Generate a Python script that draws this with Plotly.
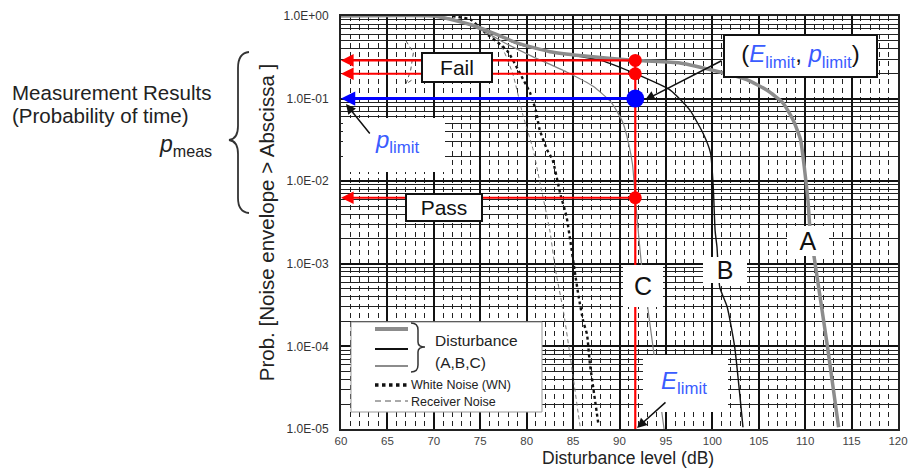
import math
import plotly.graph_objects as go

# ---------------- data ----------------
xA = [60, 70, 72, 75, 79, 82.5, 86, 91.7, 93, 96.5, 100.8, 103.7, 105.9, 107.6, 108.7, 109.5, 109.9, 110.3, 110.5, 110.9, 112.4, 113.6]
pA = [1.0, 1.0, 0.9, 0.72, 0.47, 0.37, 0.33, 0.29, 0.285, 0.27, 0.21, 0.17, 0.126, 0.089, 0.055, 0.032, 0.015, 0.0059, 0.0028, 0.00135, 0.0001, 1.05e-5]

xB = [60, 70, 72, 75, 79, 82.5, 86, 88, 91.7, 95.5, 97.6, 99, 99.8, 100.1, 100.3, 100.5, 100.8, 101.6, 102.4, 103.3]
pB = [1.0, 1.0, 0.9, 0.72, 0.46, 0.37, 0.32, 0.29, 0.2, 0.126, 0.072, 0.038, 0.022, 0.0085, 0.0025, 0.0016, 0.00052, 0.0003, 0.0001, 1.05e-5]

xC = [60, 70, 72, 75.3, 78, 80.7, 84.3, 87.2, 89, 89.7, 90.4, 91, 91.4, 91.7, 92.4, 93, 93.6, 94.2, 94.8]
pC = [1.0, 1.0, 0.93, 0.66, 0.45, 0.32, 0.21, 0.14, 0.093, 0.071, 0.05, 0.028, 0.016, 0.0063, 0.00091, 0.00032, 0.0001, 3.2e-5, 1.0e-5]

xWN = [72, 74, 75.3, 77.9, 79.3, 80.4, 81, 81.4, 82.2, 82.8, 83.6, 84.3, 84.7, 85.2, 85.6, 86.1, 86.5, 86.8, 87.2, 87.7]
pWN = [1.0, 0.9, 0.66, 0.38, 0.2, 0.115, 0.071, 0.042, 0.024, 0.018, 0.0072, 0.0037, 0.0019, 0.00078, 0.0004, 0.0002, 0.00014, 6.3e-5, 3.0e-5, 1.2e-5]

xRN = [75, 77.1, 78.5, 79.6, 80.7, 81.4, 82.5, 83.1, 84, 85, 85.5, 85.8]
pRN = [0.7, 0.47, 0.2, 0.063, 0.024, 0.01, 0.0025, 0.00085, 0.00025, 4.3e-5, 1.7e-5, 1.0e-5]

xRN2 = [67.0, 67.8, 67.5, 67.0, 67.7]
pRN2 = [0.5, 0.36, 0.22, 0.15, 0.17]

E_limit = 91.7
p_limit = 0.1
p_meas = [0.29, 0.2, 0.0063]   # A (fail), B (fail), C (pass)

xticks = [60, 65, 70, 75, 80, 85, 90, 95, 100, 105, 110, 115, 120]
yticks = [1e-5, 1e-4, 1e-3, 1e-2, 1e-1, 1.0]
yticktext = ["1.0E-05", "1.0E-04", "1.0E-03", "1.0E-02", "1.0E-01", "1.0E+00"]

# ---------------- layout helpers (pixel -> axis/paper) ----------------
W, H = 909, 468
PL, PR, PT, PB = 341, 898, 16, 429


def dx(px):
    return 60 + (px - PL) / (PR - PL) * 60


def dy(py):  # log10 units
    return -(py - PT) / (PB - PT) * 5


def ppx(px):
    return (px - PL) / (PR - PL)


def ppy(py):
    return (PB - py) / (PB - PT)


FONT = "Liberation Sans, Arial, sans-serif"
BLUE_T = "#3a5cff"
RED = "#ff0000"
BLUE = "#0000ff"

fig = go.Figure()
fig.add_trace(go.Scatter(x=xRN2, y=pRN2, mode="lines", line=dict(color="#555", width=1, dash="4px,3px")))
fig.add_trace(go.Scatter(x=xRN, y=pRN, mode="lines", line=dict(color="#777", width=1, dash="4px,3px", shape="spline", smoothing=0.5)))
fig.add_trace(go.Scatter(x=xWN, y=pWN, mode="lines", line=dict(color="#111", width=2.4, dash="dot", shape="spline", smoothing=0.5)))
fig.add_trace(go.Scatter(x=xC, y=pC, mode="lines", line=dict(color="#808080", width=1.2, shape="spline", smoothing=0.5)))
fig.add_trace(go.Scatter(x=xB, y=pB, mode="lines", line=dict(color="#111", width=1.4, shape="spline", smoothing=0.5)))
fig.add_trace(go.Scatter(x=xA, y=pA, mode="lines", line=dict(color="#8c8c8c", width=3.5, shape="spline", smoothing=0.5)))

# vertical E_limit line
fig.add_trace(go.Scatter(x=[E_limit, E_limit], y=[max(p_meas), 1e-5], mode="lines", line=dict(color=RED, width=2.2)))
# measured points and limit point
fig.add_trace(go.Scatter(x=[E_limit] * len(p_meas), y=p_meas, mode="markers", marker=dict(color=RED, size=13)))
fig.add_trace(go.Scatter(x=[E_limit], y=[p_limit], mode="markers", marker=dict(color=BLUE, size=18)))

ann = []
# horizontal arrows to the axis
for p in p_meas:
    ann.append(dict(x=60, y=math.log10(p), ax=E_limit, ay=math.log10(p), xref="x", yref="y", axref="x", ayref="y",
                    text="", showarrow=True, arrowhead=2, arrowsize=1.15, arrowwidth=2.2, arrowcolor=RED, standoff=0))
ann.append(dict(x=60, y=math.log10(p_limit), ax=E_limit, ay=math.log10(p_limit), xref="x", yref="y", axref="x", ayref="y",
                text="", showarrow=True, arrowhead=2, arrowsize=0.95, arrowwidth=3, arrowcolor=BLUE, standoff=0))

# boxes with text
def box(text, cx, cy, w, h, size, border=2):
    return dict(x=dx(cx), y=dy(cy), xref="x", yref="y", text=text, showarrow=False,
                font=dict(family=FONT, size=size, color="#111"), bgcolor="white",
                bordercolor="#111" if border else "rgba(0,0,0,0)", borderwidth=border, borderpad=0,
                width=w, height=h, xanchor="center", yanchor="middle")

ann.append(box("Fail", 457, 67, 68, 27, 21))
ann.append(box("Pass", 444, 207, 74, 25, 21))
ann.append(box("A", 808, 241, 42, 30, 25, border=0))
ann.append(box("B", 725, 270, 44, 26, 25, border=0))
ann.append(box("C", 643, 286, 40, 42, 25, border=0))
ann.append(box("(<span style='color:%s'><i>E</i><sub>limit</sub></span>, <span style='color:%s'><i>p</i><sub>limit</sub></span>)" % (BLUE_T, BLUE_T),
               800, 56, 151, 40, 24))

# labels in white areas
ann.append(dict(x=dx(397), y=dy(141), xref="x", yref="y", xanchor="center", yanchor="middle", text="<i>p</i><sub>limit</sub>",
                showarrow=False, font=dict(family=FONT, size=24, color=BLUE_T)))
ann.append(dict(x=dx(684), y=dy(382), xref="x", yref="y", xanchor="center", yanchor="middle", text="<i>E</i><sub>limit</sub>",
                showarrow=False, font=dict(family=FONT, size=24, color=BLUE_T)))

# black pointer arrows
for tip, off in [((346, 104), (25, 31)), ((645, 100), (78, -40)), ((637, 428), (30, -27))]:
    ann.append(dict(x=dx(tip[0]), y=dy(tip[1]), xref="x", yref="y", ax=off[0], ay=off[1], text="", showarrow=True,
                    arrowhead=2, arrowsize=1.3, arrowwidth=1.5, arrowcolor="#111", standoff=0))


def ptext(text, px, py, size, xanchor="left", color="#222"):
    return dict(x=ppx(px), y=ppy(py), xref="paper", yref="paper", xanchor=xanchor, yanchor="middle", text=text,
                showarrow=False, font=dict(family=FONT, size=size, color=color))


# legend texts
ann.append(ptext("Disturbance", 433, 340, 15.5))
ann.append(ptext("(A,B,C)", 433, 362, 15.5))
ann.append(ptext("White Noise (WN)", 409, 385, 12.5))
ann.append(ptext("Receiver Noise", 409, 402, 12.5))

# left side description
ann.append(ptext("Measurement Results", 10, 93, 20.5))
ann.append(ptext("(Probability of time)", 10, 116, 20.5))
ann.append(ptext("<i>p</i><sub>meas</sub>", 214, 146, 23, xanchor="right"))

# x axis title
ann.append(ptext("Disturbance level (dB)", 628, 458, 17.5, xanchor="center"))

shapes = []
# white areas
for (x0, y0, x1, y1) in [(343, 118, 445, 172), (643, 355, 728, 412)]:
    shapes.append(dict(type="rect", xref="paper", yref="paper", x0=ppx(x0), x1=ppx(x1), y0=ppy(y1), y1=ppy(y0),
                       fillcolor="white", line=dict(width=0), layer="above"))
# legend frame
shapes.append(dict(type="rect", xref="paper", yref="paper", x0=ppx(351), x1=ppx(542), y0=ppy(412), y1=ppy(322),
                   fillcolor="white", line=dict(width=1, color="#999"), layer="above"))
# legend samples
for yy, col, wd, ds in [(329, "#8c8c8c", 4, "solid"), (349, "#111", 2, "solid"), (366, "#8c8c8c", 2, "solid"),
                        (385, "#111", 3.5, "dot"), (401, "#555", 1, "6px,4px")]:
    shapes.append(dict(type="line", xref="paper", yref="paper", x0=ppx(375), x1=ppx(408), y0=ppy(yy), y1=ppy(yy),
                       line=dict(color=col, width=wd, dash=ds), layer="above"))


def path(cmds):
    out = []
    for c in cmds:
        if isinstance(c, str):
            out.append(c)
        else:
            out.append("%.5f,%.5f" % (ppx(c[0]), ppy(c[1])))
    return " ".join(out)


# big brace left of the axis
shapes.append(dict(type="path", xref="paper", yref="paper", layer="above",
                   path=path(["M", (249, 52), "Q", (238, 53), (238, 68), "L", (238, 126), "Q", (238, 139), (229, 140),
                              "Q", (238, 141), (238, 154), "L", (238, 198), "Q", (238, 212), (249, 213)]),
                   line=dict(color="#333", width=1.8)))
# small brace in legend
shapes.append(dict(type="path", xref="paper", yref="paper", layer="above",
                   path=path(["M", (411, 323), "Q", (418, 323), (418, 330), "L", (418, 342), "Q", (418, 347), (425, 347),
                              "Q", (418, 347), (418, 352), "L", (418, 365), "Q", (418, 372), (411, 372)]),
                   line=dict(color="#333", width=1.5)))

fig.update_layout(
    width=W, height=H, autosize=False,
    margin=dict(l=PL, r=W - PR, t=PT, b=H - PB, pad=0, autoexpand=False),
    paper_bgcolor="white", plot_bgcolor="white",
    showlegend=False,
    annotations=ann, shapes=shapes,
    font=dict(family=FONT),
)
fig.update_xaxes(
    range=[60, 120], tickvals=xticks, ticks="", showgrid=True, gridcolor="#111", gridwidth=2, automargin=False,
    minor=dict(dtick=1, showgrid=True, gridcolor="#222", gridwidth=1, griddash="5px,4px"),
    showline=True, linecolor="#222", linewidth=2, mirror=True, zeroline=False,
    tickfont=dict(family=FONT, size=11.5, color="#444"), ticklabelstandoff=0,
)
fig.update_yaxes(
    type="log", range=[-5, 0], tickvals=yticks, ticktext=yticktext, ticks="", showgrid=True, gridcolor="#111", gridwidth=2,
    automargin=False,
    minor=dict(dtick="D1", showgrid=True, gridcolor="#222", gridwidth=1),
    showline=True, linecolor="#222", linewidth=2, mirror=True, zeroline=False,
    tickfont=dict(family=FONT, size=12, color="#333"), ticklabelstandoff=8,
    title=dict(text="Prob. [Noise envelope > Abscissa ]", font=dict(family=FONT, size=20.5, color="#222"), standoff=3),
)

fig.write_html("out.html", config={"displayModeBar": False, "responsive": False},
               post_script="document.body.style.margin='0';")
